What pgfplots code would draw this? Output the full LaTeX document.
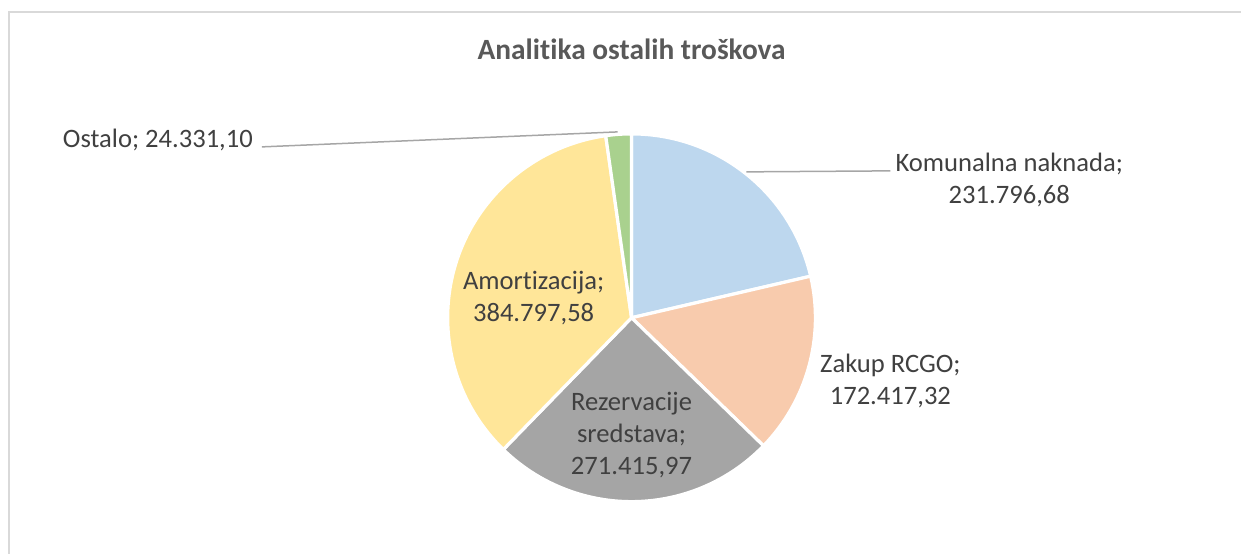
\documentclass[border=0pt]{standalone}
\usepackage{pgfplots}
\pgfplotsset{compat=1.18}
\usepackage{fontspec}
\setmainfont{Carlito}[Ligatures=NoCommon]
\definecolor{txt}{HTML}{404040}
\definecolor{ttl}{HTML}{595959}
\definecolor{frame}{HTML}{D9D9D9}
\definecolor{lead}{HTML}{A6A6A6}
\definecolor{kom}{HTML}{BDD7EE}
\definecolor{zak}{HTML}{F8CBAD}
\definecolor{rez}{HTML}{A5A5A5}
\definecolor{amo}{HTML}{FFE699}
\definecolor{ost}{HTML}{A9D18E}
\begin{document}
\begin{tikzpicture}
% values (clockwise from 12 o'clock)
\pgfkeys{/pgf/fpu=true,/pgf/fpu/output format=fixed}
\pgfmathsetmacro\vA{231796.68}% Komunalna naknada
\pgfmathsetmacro\vB{172417.32}% Zakup RCGO
\pgfmathsetmacro\vC{271415.97}% Rezervacije sredstava
\pgfmathsetmacro\vD{384797.58}% Amortizacija
\pgfmathsetmacro\vE{24331.10}%  Ostalo
\pgfmathsetmacro\tot{\vA+\vB+\vC+\vD+\vE}
\pgfmathsetmacro\aA{90-360*\vA/\tot}
\pgfmathsetmacro\aB{\aA-360*\vB/\tot}
\pgfmathsetmacro\aC{\aB-360*\vC/\tot}
\pgfmathsetmacro\aD{\aC-360*\vD/\tot}
\pgfkeys{/pgf/fpu=false}
\begin{axis}[scale only axis,width=621pt,height=277pt,
  xmin=0,xmax=1242,ymin=0,ymax=554,y dir=reverse,
  hide axis,clip=false]
\path (axis cs:0,0) rectangle (axis cs:1242,554);
% chart frame (right and bottom edges cut off)
\draw[frame,line width=0.9pt] (axis cs:9,554) -- (axis cs:9,12) -- (axis cs:1242,12);

\node[font=\fontsize{14.7}{18}\selectfont\bfseries,text=ttl,anchor=base]
  at (axis cs:632,60) {Analitika ostalih troškova};

% wedges
\tikzset{wedge/.style={draw=white,line width=1.6pt,line join=round}}
\fill[kom,wedge] (axis cs:632,318) -- ++(90:92pt) arc[start angle=90,end angle=\aA,radius=92pt] -- cycle;
\fill[zak,wedge] (axis cs:632,318) -- ++(\aA:92pt) arc[start angle=\aA,end angle=\aB,radius=92pt] -- cycle;
\fill[rez,wedge] (axis cs:632,318) -- ++(\aB:92pt) arc[start angle=\aB,end angle=\aC,radius=92pt] -- cycle;
\fill[amo,wedge] (axis cs:632,318) -- ++(\aC:92pt) arc[start angle=\aC,end angle=\aD,radius=92pt] -- cycle;
\fill[ost,wedge] (axis cs:632,318) -- ++(\aD:92pt) arc[start angle=\aD,end angle=-270,radius=92pt] -- cycle;

% leader lines
\draw[lead,line width=0.75pt] (axis cs:262,147) -- (axis cs:618,132);
\draw[lead,line width=0.75pt] (axis cs:747,172) -- (axis cs:891,171);

% data labels
\tikzset{lbl/.style={font=\fontsize{13.3}{16}\selectfont,text=txt,align=center,inner sep=0pt}}
\node[lbl] at (axis cs:158,140) {Ostalo; 24.331,10};
\node[lbl] at (axis cs:1010,180) {Komunalna naknada;\\231.796,68};
\node[lbl] at (axis cs:891,381) {Zakup RCGO;\\172.417,32};
\node[lbl] at (axis cs:632,435) {Rezervacije\\sredstava;\\271.415,97};
\node[lbl] at (axis cs:534,298) {Amortizacija;\\384.797,58};
\end{axis}
\end{tikzpicture}
\end{document}
